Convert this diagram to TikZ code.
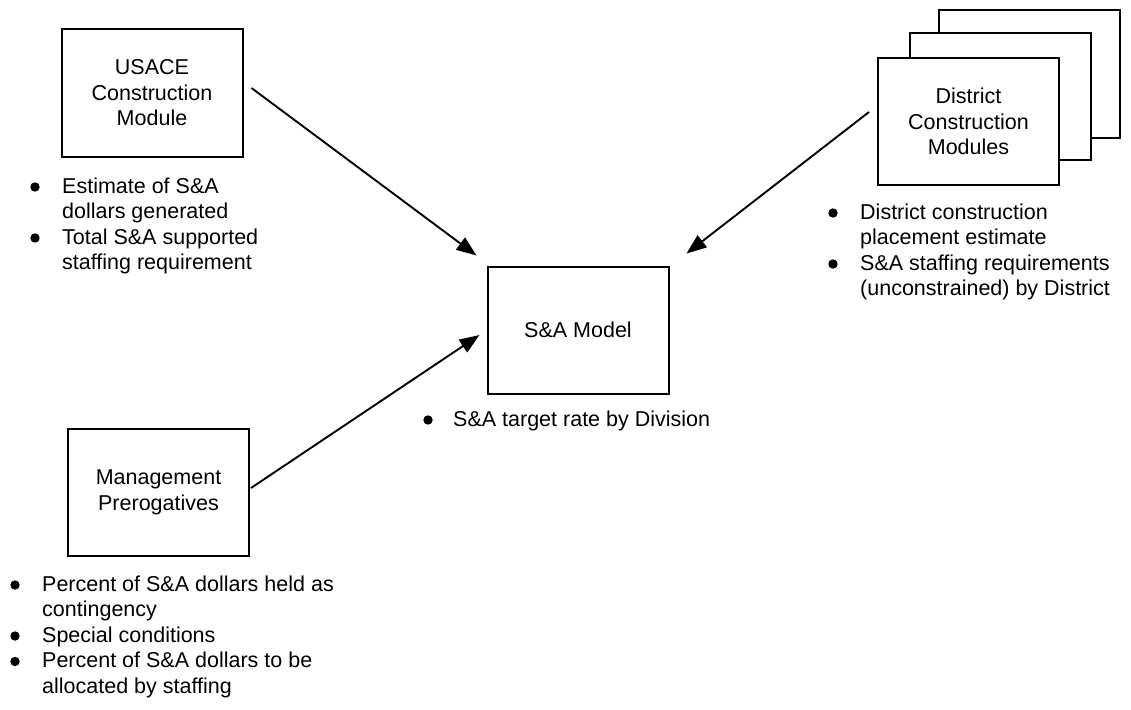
\documentclass[tikz,border=0pt]{standalone}
\usepackage{fontspec}
\setmainfont{Liberation Sans}
\usetikzlibrary{arrows.meta,calc}

\newcommand{\notefont}{\fontsize{21.5}{25.5}\selectfont}

\begin{document}
\begin{tikzpicture}[x=1pt,y=-1pt,
  box/.style={draw,line width=2pt,fill=white,minimum width=181pt,
    minimum height=127pt,inner sep=0pt,align=center,font=\notefont},
  notes/.style={anchor=base west,inner sep=0pt,font=\notefont},
  dot/.style={fill=black},
  feed/.style={line width=1.9pt,-{Triangle[length=20pt,width=15pt]}}]

\useasboundingbox (0,0) rectangle (1131,709);

% input and output modules
\node[box] (usace) at (152,93) {USACE\\Construction\\Module};
\node[box] (model) at (578,330) {S\&A Model};
\node[box] (mgmt) at (158.5,492.5) {Management\\Prerogatives};

% stacked district modules
\node[box] (dist3) at (1029,74) {};
\node[box] (dist2) at (1000,96.5) {};
\node[box] (dist) at (968.5,121.5) {District\\Construction\\Modules};

% notes under each module
\node[notes] (usacenotes) at (62,193) {\begin{tabular}[t]{@{}l@{}}
  Estimate of S\&A\\
  dollars generated\\
  Total S\&A supported\\
  staffing requirement
\end{tabular}};

\node[notes] (distnotes) at (860,219) {\begin{tabular}[t]{@{}l@{}}
  District construction\\
  placement estimate\\
  S\&A staffing requirements\\
  (unconstrained) by District
\end{tabular}};

\node[notes] (modelnotes) at (453,426) {\begin{tabular}[t]{@{}l@{}}
  S\&A target rate by Division
\end{tabular}};

\node[notes] (mgmtnotes) at (42,591) {\begin{tabular}[t]{@{}l@{}}
  Percent of S\&A dollars held as\\
  contingency\\
  Special conditions\\
  Percent of S\&A dollars to be\\
  allocated by staffing
\end{tabular}};

% bullets in front of each item (line pitch 25.5)
\foreach \k in {0,2}
  \fill[dot] ($(usacenotes.base west)+(-27,\k*25.5-6)$) circle (4.7);
\foreach \k in {0,2}
  \fill[dot] ($(distnotes.base west)+(-27,\k*25.5-6)$) circle (4.7);
\fill[dot] ($(modelnotes.base west)+(-25,-6)$) circle (4.7);
\foreach \k in {0,2,3}
  \fill[dot] ($(mgmtnotes.base west)+(-27,\k*25.5-6)$) circle (4.7);

% flows into the S&A model
\draw[feed] ($(usace.east)+(8,-5)$) -- ($(model.north west)+(-10,-10)$);
\draw[feed] ($(dist.west)+(-8,-9.5)$) -- ($(model.north east)+(17,-12)$);
\draw[feed] ($(mgmt.east)+(1,-4.5)$) -- ($(model.west)+(-7,5)$);
\end{tikzpicture}
\end{document}
